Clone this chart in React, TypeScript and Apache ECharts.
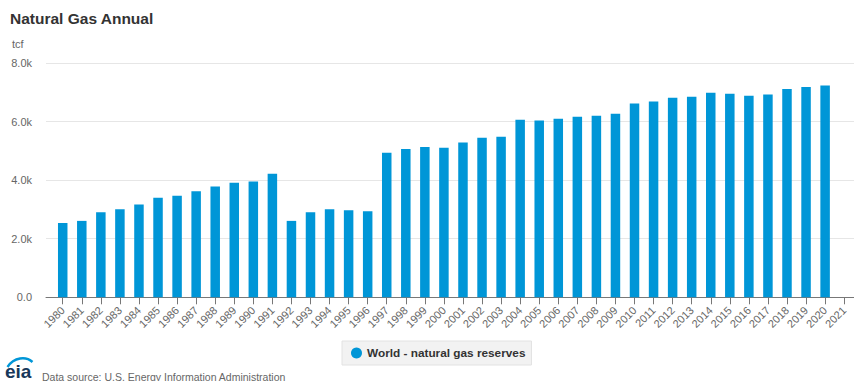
import React, { useEffect, useRef } from "react";
import * as echarts from "echarts";

// Proved natural gas reserves, world total (trillion cubic feet)
const years = [
  "1980", "1981", "1982", "1983", "1984", "1985", "1986", "1987", "1988", "1989", "1990",
  "1991", "1992", "1993", "1994", "1995", "1996", "1997", "1998", "1999", "2000", "2001",
  "2002", "2003", "2004", "2005", "2006", "2007", "2008", "2009", "2010", "2011", "2012",
  "2013", "2014", "2015", "2016", "2017", "2018", "2019", "2020", "2021",
];

const worldReserves: (number | null)[] = [
  2540, 2609, 2906, 3009, 3166, 3395, 3464, 3624, 3781, 3908, 3952,
  4216, 2609, 2906, 3009, 2975, 2940, 4934, 5060, 5129, 5110, 5286,
  5447, 5481, 6062, 6038, 6096, 6165, 6199, 6267, 6619, 6688, 6814,
  6848, 6985, 6951, 6882, 6927, 7112, 7180, 7234, null,
];

const seriesName = "World - natural gas reserves";
const yMax = 8000;
const yStep = 2000;

const FONT = "'Liberation Sans', Arial, Helvetica, sans-serif";
const BLUE = "#0096d7";

function formatTick(v: number): string {
  return v === 0 ? "0.0" : (v / 1000).toFixed(1) + "k";
}

export default function App() {
  const ref = useRef<HTMLDivElement>(null);

  useEffect(() => {
    if (!ref.current) return;
    const chart = echarts.init(ref.current, undefined, { renderer: "svg" });

    const top = 63;
    const bottom = 83.7;

    chart.setOption({
      animation: false,
      textStyle: { fontFamily: FONT },
      title: {
        text: "Natural Gas Annual",
        left: 10,
        top: 10,
        padding: 0,
        textStyle: { fontFamily: FONT, fontSize: 15.5, fontWeight: "bold", color: "#333333" },
      },
      legend: {
        data: [seriesName],
        left: 342,
        top: 341,
        orient: "horizontal",
        icon: "circle",
        itemWidth: 11,
        itemHeight: 11,
        itemGap: 6,
        padding: [6, 6, 6, 9],
        backgroundColor: "#f2f2f2",
        borderColor: "#e2e2e2",
        borderWidth: 1,
        borderRadius: 0,
        selectedMode: false,
        textStyle: { fontFamily: FONT, fontSize: 11.8, fontWeight: "bold", color: "#333333" },
      },
      grid: [
        // frame grid: gridlines, value labels and the baseline
        { left: 46, right: 0, top, bottom },
        // category grid holding the bars
        { left: 53.2, width: 800.5, top, bottom },
      ],
      xAxis: [
        {
          gridIndex: 0,
          type: "value",
          min: 0,
          max: 1,
          axisLine: { show: true, onZero: false, lineStyle: { color: "#777777", width: 1 } },
          axisTick: { show: false },
          axisLabel: { show: false },
          splitLine: { show: false },
        },
        {
          gridIndex: 1,
          type: "category",
          data: years,
          boundaryGap: true,
          axisLine: { show: false },
          axisTick: {
            show: true,
            alignWithLabel: true,
            length: 7,
            lineStyle: { color: "#777777", width: 1 },
          },
          axisLabel: {
            interval: 0,
            rotate: 45,
            margin: 11,
            fontFamily: FONT,
            fontSize: 11,
            color: "#666666",
          },
          splitLine: { show: false },
        },
      ],
      yAxis: [
        {
          gridIndex: 0,
          type: "value",
          min: 0,
          max: yMax,
          interval: yStep,
          axisLine: { show: false },
          axisTick: { show: false },
          axisLabel: {
            margin: 14,
            fontFamily: FONT,
            fontSize: 11,
            color: "#666666",
            formatter: formatTick,
          },
          splitLine: { show: true, lineStyle: { color: "#e6e6e6", width: 1 } },
        },
        {
          gridIndex: 1,
          type: "value",
          min: 0,
          max: yMax,
          interval: yStep,
          show: false,
          splitLine: { show: false },
        },
      ],
      series: [
        {
          name: seriesName,
          type: "bar",
          xAxisIndex: 1,
          yAxisIndex: 1,
          data: worldReserves,
          barWidth: 9.5,
          itemStyle: { color: BLUE },
        },
      ],
      graphic: [
        {
          type: "text",
          left: 12,
          top: 38,
          style: { text: "tcf", fill: "#666666", font: `11px ${FONT}` },
        },
        {
          type: "text",
          left: 42,
          top: 371,
          style: {
            text: "Data source: U.S. Energy Information Administration",
            fill: "#666666",
            font: `10.5px ${FONT}`,
          },
        },
        {
          type: "bezierCurve",
          shape: { x1: 7.5, y1: 367, x2: 32.5, y2: 362, cpx1: 14, cpy1: 357, cpx2: 26, cpy2: 356 },
          style: { stroke: BLUE, lineWidth: 2.4, fill: "none" },
        },
        {
          type: "text",
          left: 5,
          top: 362,
          style: { text: "eia", fill: "#17385a", font: `bold 19px ${FONT}` },
        },
      ],
    });

    return () => chart.dispose();
  }, []);

  return (
    <div
      ref={ref}
      style={{ position: "absolute", left: 0, top: 0, width: 854, height: 381, background: "#ffffff" }}
    />
  );
}
